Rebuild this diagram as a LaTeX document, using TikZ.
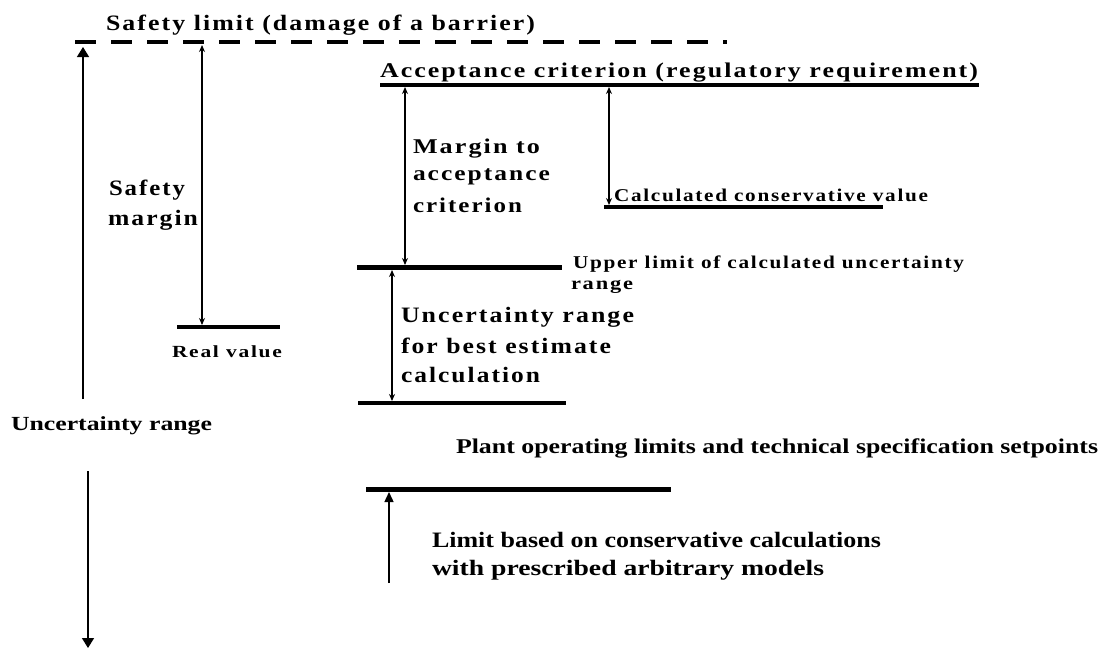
\documentclass[tikz,border=0pt]{standalone}
\usepackage{fontspec}
\usepackage{graphicx}
\setmainfont{Liberation Serif}
\newfontfamily\spfont{Liberation Serif}[LetterSpace=8]
\usetikzlibrary{arrows.meta}
\newcommand\sptxt[3]{{\spfont\bfseries\fontsize{#1}{#1}\selectfont\resizebox{#2pt}{\height}{#3}}}
\newcommand\nmtxt[3]{{\bfseries\fontsize{#1}{#1}\selectfont\resizebox{#2pt}{\height}{#3}}}
\tikzset{
  lbl/.style={inner sep=0pt, outer sep=0pt, anchor=west, text=black},
  bar/.style={line width=3.5pt, line cap=butt},
  thickbar/.style={line width=5pt},
  limitline/.style={line width=4pt, dash pattern=on 21pt off 15pt},
  shaft/.style={line width=1.4pt},
  smallhead/.style={shaft, {Stealth[width=6pt,length=7pt]}-{Stealth[width=6pt,length=7pt]}},
  bighead/.style={shaft, -{Triangle[width=12pt,length=10pt]}},
  midhead/.style={shaft, -{Triangle[width=9pt,length=10pt]}}
}
\begin{document}
\begin{tikzpicture}[x=1pt,y=-1pt]
\useasboundingbox[fill=white] (0,0) rectangle (1105,649);

% horizontal levels
\coordinate (sl1) at (75,42);  \coordinate (sl2) at (727,42);
\coordinate (ac1) at (380,85); \coordinate (ac2) at (979,85);
\coordinate (cc1) at (604,207); \coordinate (cc2) at (883,207);
\coordinate (up1) at (357,267); \coordinate (up2) at (562,267);
\coordinate (lo1) at (358,403); \coordinate (lo2) at (566,403);
\coordinate (rv1) at (177,327); \coordinate (rv2) at (280,327);
\coordinate (lm1) at (366,489); \coordinate (lm2) at (671,489);

\draw[limitline] (sl1) -- (sl2);
\draw[bar] (ac1) -- (ac2);
\draw[bar] (cc1) -- (cc2);
\draw[thickbar] (up1) -- (up2);
\draw[bar] (lo1) -- (lo2);
\draw[bar] (rv1) -- (rv2);
\draw[thickbar] (lm1) -- (lm2);

% arrow end points
\coordinate (La) at (83,47);  \coordinate (Lb) at (83,399);
\coordinate (Lc) at (88,471); \coordinate (Ld) at (88,648);
\coordinate (Sa) at (202,45); \coordinate (Sb) at (202,325);
\coordinate (Ma) at (405,87); \coordinate (Mb) at (405,265);
\coordinate (Ca) at (609,87); \coordinate (Cb) at (609,205);
\coordinate (Ua) at (392,270); \coordinate (Ub) at (392,401);
\coordinate (Pa) at (389,583); \coordinate (Pb) at (389,492);

\draw[bighead] (Lb) -- (La);
\draw[bighead] (Lc) -- (Ld);
\draw[smallhead] (Sa) -- (Sb);
\draw[smallhead] (Ma) -- (Mb);
\draw[smallhead] (Ca) -- (Cb);
\draw[smallhead] (Ua) -- (Ub);
\draw[midhead] (Pa) -- (Pb);

% labels
\node[lbl] (tsafe) at (106,25) {\sptxt{22}{429}{Safety limit (damage of a barrier)}};
\node[lbl] (tacc) at (380,73) {\sptxt{21}{598}{Acceptance criterion (regulatory requirement)}};
\node[lbl] (tmar1) at (413,149) {\sptxt{21}{127}{Margin to}};
\node[lbl] (tmar2) at (413,177) {\sptxt{21}{137}{acceptance}};
\node[lbl] (tmar3) at (413,205) {\sptxt{21}{109}{criterion}};
\node[lbl] (tcalc) at (614,195) {\sptxt{18}{314}{Calculated conservative value}};
\node[lbl] (tup1) at (573,264) {\sptxt{18}{391}{Upper limit of calculated uncertainty}};
\node[lbl] (tup2) at (571,287) {\sptxt{18}{62}{range}};
\node[lbl] (tunc1) at (401,317) {\sptxt{22}{233}{Uncertainty range}};
\node[lbl] (tunc2) at (401,346) {\sptxt{22}{210}{for best estimate}};
\node[lbl] (tunc3) at (401,375) {\sptxt{22}{139}{calculation}};
\node[lbl] (tsm1) at (109,190) {\sptxt{22}{76}{Safety}};
\node[lbl] (tsm2) at (108,220) {\sptxt{22}{90}{margin}};
\node[lbl] (treal) at (172,352) {\sptxt{17}{110}{Real value}};
\node[lbl] (tur) at (11,426) {\nmtxt{20}{201}{Uncertainty range}};
\node[lbl] (tplant) at (456,448) {\nmtxt{21}{642}{Plant operating limits and technical specification setpoints}};
\node[lbl] (tlim1) at (432,540) {\nmtxt{22}{449}{Limit based on conservative calculations}};
\node[lbl] (tlim2) at (432,570) {\nmtxt{22}{392}{with prescribed arbitrary models}};
\end{tikzpicture}
\end{document}
